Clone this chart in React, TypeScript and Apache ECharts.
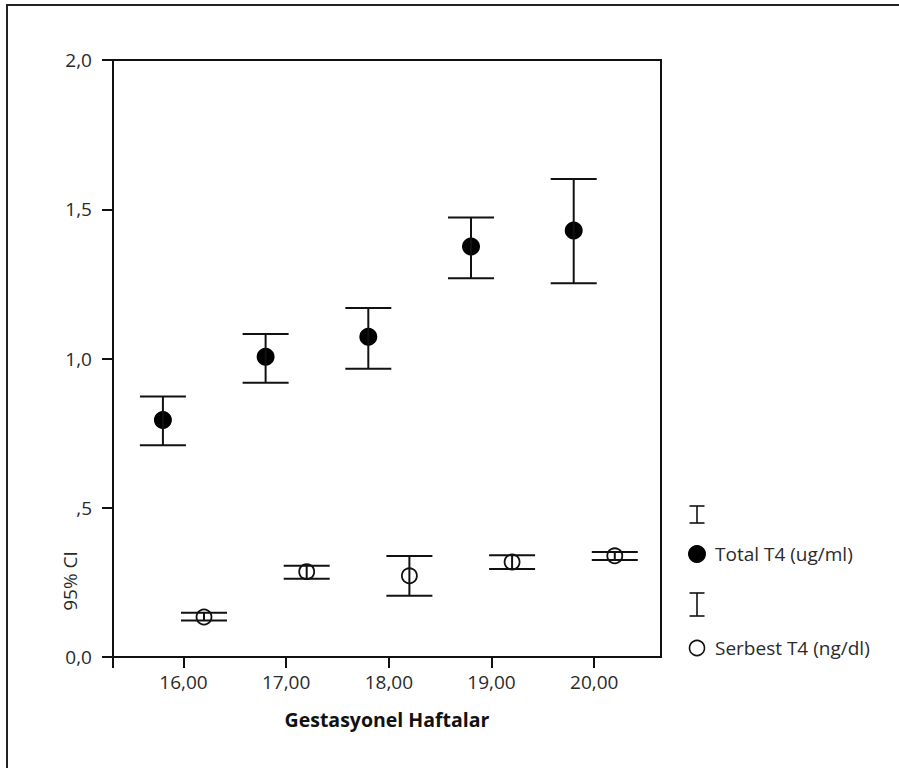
import React, { useEffect, useRef } from "react";
import * as echarts from "echarts";

const weeks = [16, 17, 18, 19, 20];
const totalMean = [0.794, 1.006, 1.073, 1.375, 1.429];
const totalLow = [0.709, 0.919, 0.966, 1.269, 1.252];
const totalHigh = [0.873, 1.082, 1.169, 1.472, 1.601];
const freeMean = [0.134, 0.286, 0.272, 0.318, 0.339];
const freeLow = [0.122, 0.262, 0.205, 0.295, 0.325];
const freeHigh = [0.148, 0.306, 0.338, 0.341, 0.352];
const yTickLabels: Record<string, string> = { "0": "0,0", "0.5": ",5", "1": "1,0", "1.5": "1,5", "2": "2,0" };

const FONT = "Open Sans, Noto Sans, sans-serif";
const TXT = "#2a2a2a";

export default function App() {
  const ref = useRef<HTMLDivElement>(null);
  useEffect(() => {
    if (!ref.current) return;
    const chart = echarts.init(ref.current, undefined, { renderer: "svg" });
    const offset = 0.2;
    const errRender = (params: any, api: any) => {
      const x = api.value(0);
      const lo = api.coord([x, api.value(1)]);
      const hi = api.coord([x, api.value(2)]);
      const hw = 23;
      const style = { stroke: "#111", lineWidth: 2 };
      return {
        type: "group",
        children: [
          { type: "line", shape: { x1: lo[0], y1: lo[1], x2: hi[0], y2: hi[1] }, style },
          { type: "line", shape: { x1: lo[0] - hw, y1: lo[1], x2: lo[0] + hw, y2: lo[1] }, style },
          { type: "line", shape: { x1: hi[0] - hw, y1: hi[1], x2: hi[0] + hw, y2: hi[1] }, style },
        ],
      };
    };
    const legX = 697;
    const ibar = (y1: number, y2: number) => [
      { type: "line", shape: { x1: legX, y1, x2: legX, y2 }, style: { stroke: "#111", lineWidth: 1.6 } },
      { type: "line", shape: { x1: legX - 7.5, y1, x2: legX + 7.5, y2: y1 }, style: { stroke: "#111", lineWidth: 1.6 } },
      { type: "line", shape: { x1: legX - 7.5, y1: y2, x2: legX + 7.5, y2 }, style: { stroke: "#111", lineWidth: 1.6 } },
    ];
    const txtStyle = { fill: TXT, fontFamily: FONT, fontSize: 19 };
    chart.setOption({
      animation: false,
      backgroundColor: "#fff",
      grid: { left: 113, top: 60, right: 238, bottom: 111, show: true, borderColor: "#111", borderWidth: 2 },
      xAxis: {
        type: "value",
        min: 15.314,
        max: 20.65,
        splitLine: { show: false },
        axisLine: { show: true, onZero: false, lineStyle: { color: "#111", width: 2 } },
        axisTick: { show: true, length: 11, lineStyle: { color: "#111", width: 2 }, customValues: [15.314, ...weeks] },
        axisLabel: {
          customValues: weeks,
          margin: 15,
          color: TXT,
          fontFamily: FONT,
          fontSize: 19,
          formatter: (v: number) => v.toFixed(2).replace(".", ","),
        },
        name: "Gestasyonel Haftalar",
        nameLocation: "middle",
        nameGap: 52,
        nameTextStyle: { color: "#111", fontFamily: FONT, fontSize: 19.5, fontWeight: "bold" },
      },
      yAxis: {
        type: "value",
        min: 0,
        max: 2,
        interval: 0.5,
        splitLine: { show: false },
        axisLine: { show: true, lineStyle: { color: "#111", width: 2 } },
        axisTick: { show: true, length: 11, lineStyle: { color: "#111", width: 2 } },
        axisLabel: {
          margin: 21,
          color: TXT,
          fontFamily: FONT,
          fontSize: 19,
          formatter: (v: number) => yTickLabels[String(v)] ?? String(v),
        },
      },
      series: [
        {
          type: "scatter",
          z: 2,
          symbol: "circle",
          symbolSize: 18,
          itemStyle: { color: "#000", opacity: 1 },
          data: weeks.map((w, i) => [w - offset, totalMean[i]]),
        },
        {
          type: "scatter",
          z: 2,
          symbol: "circle",
          symbolSize: 15,
          itemStyle: { color: "#fff", borderColor: "#111", borderWidth: 1.8, opacity: 1 },
          data: weeks.map((w, i) => [w + offset, freeMean[i]]),
        },
        {
          type: "custom",
          z: 3,
          renderItem: errRender,
          data: weeks.map((w, i) => [w - offset, totalLow[i], totalHigh[i]]),
        },
        {
          type: "custom",
          z: 3,
          renderItem: errRender,
          data: weeks.map((w, i) => [w + offset, freeLow[i], freeHigh[i]]),
        },
      ],
      graphic: [
        { type: "rect", shape: { x: 7, y: 5, width: 1000, height: 1000 }, style: { fill: "none", stroke: "#222", lineWidth: 2 }, silent: true },
        {
          type: "text",
          x: 70,
          y: 581,
          rotation: Math.PI / 2,
          style: { ...txtStyle, text: "95% CI", align: "center", verticalAlign: "middle" },
        },
        ...ibar(506, 523),
        { type: "circle", shape: { cx: legX, cy: 554, r: 9 }, style: { fill: "#000" } },
        { type: "text", x: 715, y: 554, style: { ...txtStyle, text: "Total T4 (ug/ml)", verticalAlign: "middle" } },
        ...ibar(593, 616),
        { type: "circle", shape: { cx: legX, cy: 648, r: 7.5 }, style: { fill: "#fff", stroke: "#111", lineWidth: 1.6 } },
        { type: "text", x: 715, y: 648, style: { ...txtStyle, text: "Serbest T4 (ng/dl)", verticalAlign: "middle" } },
      ],
    });
    return () => chart.dispose();
  }, []);
  return <div ref={ref} style={{ position: "fixed", left: 0, top: 0, width: 899, height: 768, background: "#fff" }} />;
}
